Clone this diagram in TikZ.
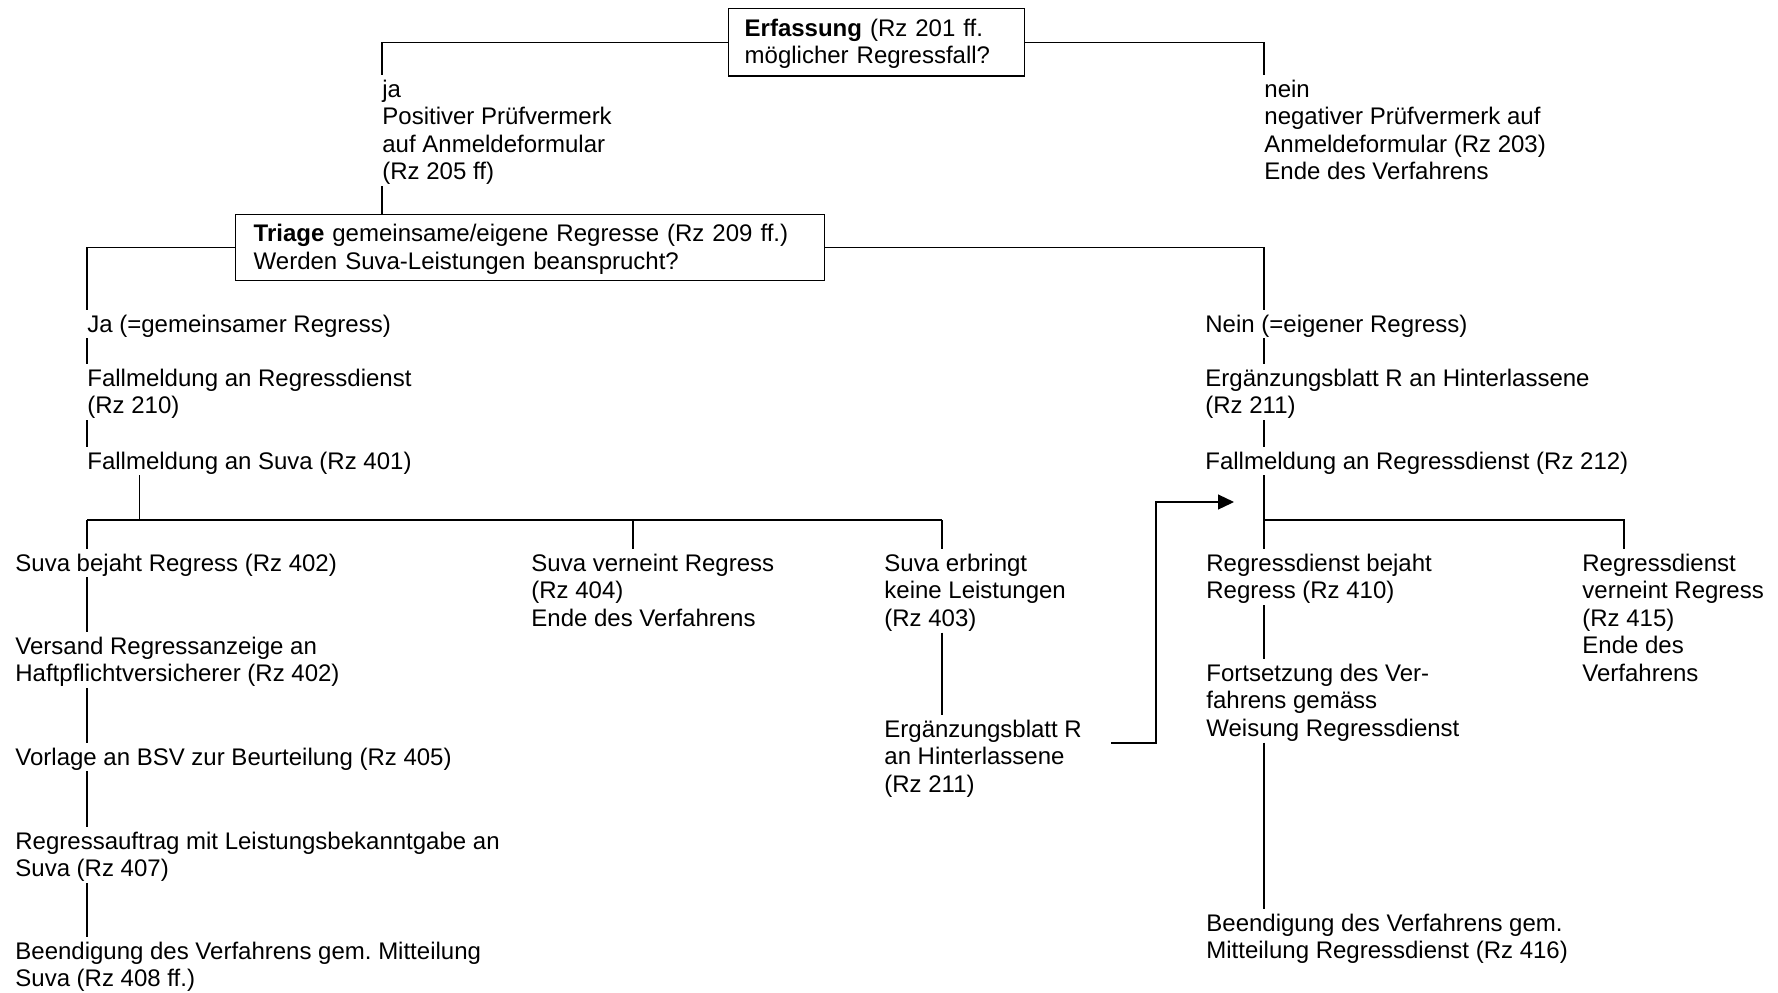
\documentclass[tikz,border=0pt]{standalone}
\usepackage{fontspec}
\setmainfont{Liberation Sans}
\usepackage{tikz}
\usetikzlibrary{arrows.meta}
\frenchspacing
\tikzset{
  entry/.style={anchor=north west, inner sep=0pt, align=left},
  question/.style={draw, line width=0.7pt, anchor=north west, inner ysep=3pt, align=left},
  link/.style={line width=0.6pt},
}
\newcommand{\topstrut}{\rule{0pt}{10.8pt}}
\newcommand{\botstrut}{\rule[-3pt]{0pt}{3pt}}
\newcommand{\entry}[4]{\node[entry] (#1) at (#2,#3) {\topstrut #4\botstrut};}

\begin{document}
\begin{tikzpicture}[x=0.5pt, y=-0.5pt, font=\fontsize{12}{13.8}\selectfont]
        \useasboundingbox (0,0) rectangle (1778,992);
        % questions
        \node[question, inner xsep=8pt, text width=132pt] (erf) at (728,8)
            {\topstrut\textbf{Erfassung} (Rz 201 ff.\\ möglicher Regressfall?\botstrut};
        \node[question, inner xsep=9pt, inner ysep=2.7pt, text width=276.5pt] (triage) at (235,214)
            {\topstrut\textbf{Triage} gemeinsame/eigene Regresse (Rz 209 ff.)\\ Werden Suva-Leistungen beansprucht?\botstrut};
        % first answers
        \entry{ja}{382}{75}{ja\\ Positiver Prüfvermerk\\ auf Anmeldeformular\\ (Rz 205 ff)}
        \entry{nein}{1264}{75}{nein\\ negativer Prüfvermerk auf\\ Anmeldeformular (Rz 203)\\ Ende des Verfahrens}
        % left branch
        \entry{gemeinsam}{87}{310}{Ja (=gemeinsamer Regress)}
        \entry{fallreg}{87}{364}{Fallmeldung an Regressdienst\\ (Rz 210)}
        \entry{fallsuva}{87}{447}{Fallmeldung an Suva (Rz 401)}
        \entry{bejaht}{15}{549}{Suva bejaht Regress (Rz 402)}
        \entry{verneint}{531}{549}{Suva verneint Regress\\ (Rz 404)\\ Ende des Verfahrens}
        \entry{keine}{884}{549}{Suva erbringt\\ keine Leistungen\\ (Rz 403)}
        \entry{versand}{15}{632}{Versand Regressanzeige an\\ Haftpflichtversicherer (Rz 402)}
        \entry{ergM}{884}{715}{Ergänzungsblatt R\\ an Hinterlassene\\ (Rz 211)}
        \entry{vorlage}{15}{743}{Vorlage an BSV zur Beurteilung (Rz 405)}
        \entry{auftrag}{15}{827}{Regressauftrag mit Leistungsbekanntgabe an\\ Suva (Rz 407)}
        \entry{endeL}{15}{937}{Beendigung des Verfahrens gem. Mitteilung\\ Suva (Rz 408 ff.)}
        % right branch
        \entry{eigen}{1205}{310}{Nein (=eigener Regress)}
        \entry{ergR}{1205}{364}{Ergänzungsblatt R an Hinterlassene\\ (Rz 211)}
        \entry{fallreg2}{1205}{447}{Fallmeldung an Regressdienst (Rz 212)}
        \entry{rdja}{1206}{549}{Regressdienst bejaht\\ Regress (Rz 410)}
        \entry{rdnein}{1582}{549}{Regressdienst\\ verneint Regress\\ (Rz 415)\\ Ende des\\ Verfahrens}
        \entry{fortsetz}{1206}{659}{Fortsetzung des Ver-\\ fahrens gemäss\\ Weisung Regressdienst}
        \entry{endeR}{1206}{909}{Beendigung des Verfahrens gem.\\ Mitteilung Regressdienst (Rz 416)}
        % columns and bars
        \coordinate (colL) at (87,0);
        \coordinate (colR) at (1264,0);
        \coordinate (splitL) at (139.5,520);
        \coordinate (barL1) at (87,520);
        \coordinate (barL2) at (633,520);
        \coordinate (barL3) at (942,520);
        \coordinate (barR1) at (1264,520);
        \coordinate (barR2) at (1624,520);
        \coordinate (hook) at (1111,743);
        \coordinate (hookT) at (1234,502);
        % top links
        \draw[link] (erf.west) -| (ja.north west);
        \draw[link] (erf.east) -| (nein.north west);
        \draw[link] (ja.south west) -- (ja.south west |- triage.north);
        \draw[link] (triage.west) -| (gemeinsam.north west);
        \draw[link] (triage.east) -| (eigen.north -| colR);
        % left links
        \draw[link] (gemeinsam.south -| colL) -- (fallreg.north -| colL);
        \draw[link] (fallreg.south -| colL) -- (fallsuva.north -| colL);
        \draw[link] (fallsuva.south -| splitL) -- (splitL);
        \draw[link] (barL1) -- (barL3);
        \draw[link] (barL1) -- (barL1 |- bejaht.north);
        \draw[link] (barL2) -- (barL2 |- verneint.north);
        \draw[link] (barL3) -- (barL3 |- keine.north);
        \draw[link] (bejaht.south -| colL) -- (versand.north -| colL);
        \draw[link] (versand.south -| colL) -- (vorlage.north -| colL);
        \draw[link] (vorlage.south -| colL) -- (auftrag.north -| colL);
        \draw[link] (auftrag.south -| colL) -- (endeL.north -| colL);
        \draw[link] (keine.south -| barL3) -- (ergM.north -| barL3);
        % right links
        \draw[link] (eigen.south -| colR) -- (ergR.north -| colR);
        \draw[link] (ergR.south -| colR) -- (fallreg2.north -| colR);
        \draw[link] (fallreg2.south -| colR) -- (rdja.north -| colR);
        \draw[link] (barR1) -- (barR2) -- (barR2 |- rdnein.north);
        \draw[link] (rdja.south -| colR) -- (fortsetz.north -| colR);
        \draw[link] (fortsetz.south -| colR) -- (endeR.north -| colR);
        % back to the Regressdienst
        \draw[link, -{Triangle[length=8pt, width=7.5pt]}] (hook) -- ++(45,0) |- (hookT);
\end{tikzpicture}
\end{document}
